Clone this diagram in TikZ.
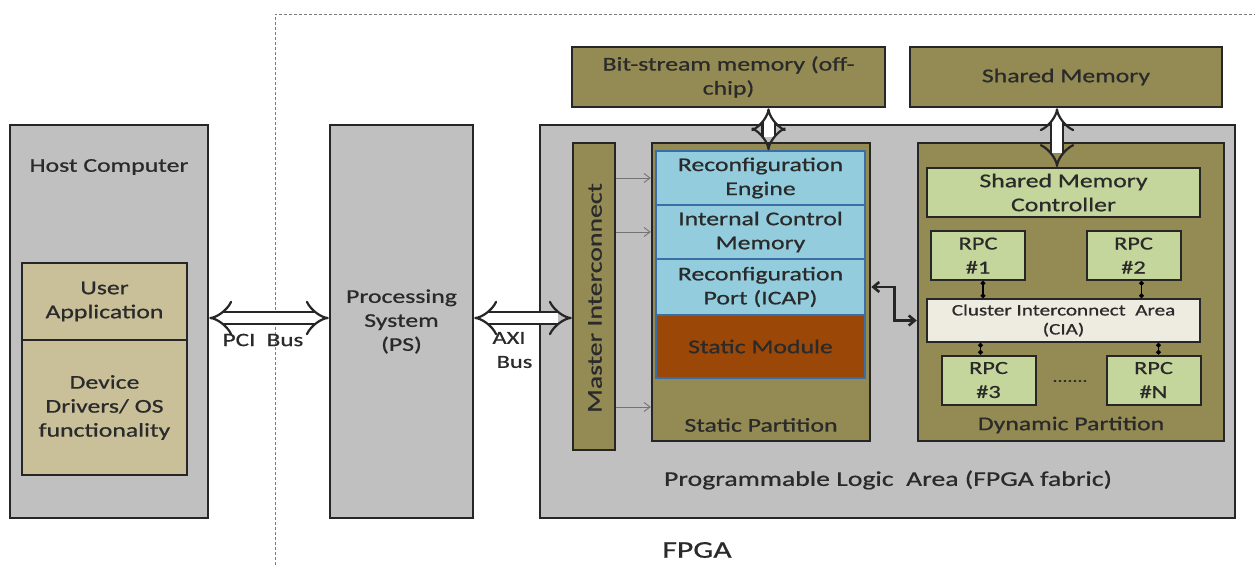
\documentclass[tikz,border=0pt]{standalone}
\usepackage{fontspec}
\setmainfont{Carlito}[FakeStretch=1.32,FakeBold=0.7]
\usetikzlibrary{arrows.meta,positioning}
\definecolor{grayfill}{HTML}{C0C0C0}
\definecolor{olivefill}{HTML}{948A54}
\definecolor{tanfill}{HTML}{C9C09A}
\definecolor{bluefill}{HTML}{93CDDD}
\definecolor{blueline}{HTML}{3A6EA5}
\definecolor{brownfill}{HTML}{9A4708}
\definecolor{greenfill}{HTML}{C4D69C}
\definecolor{ciafill}{HTML}{EEECE1}
\definecolor{txt}{HTML}{2A2A2A}
\definecolor{dashgray}{HTML}{7A7A7A}
\tikzset{
  blk/.style={draw=black!85, line width=2.5pt, inner sep=0pt, align=center, text=txt,
              font=\fontsize{19.5}{24}\selectfont},
  graybox/.style={blk, fill=grayfill},
  olivebox/.style={blk, fill=olivefill},
  tanbox/.style={blk, fill=tanfill},
  bluebox/.style={blk, draw=blueline, line width=1.4pt, fill=bluefill},
  brownbox/.style={bluebox, fill=brownfill},
  greenbox/.style={blk, line width=2pt, fill=greenfill},
  ciabox/.style={blk, line width=2pt, fill=ciafill, font=\fontsize{16}{19}\selectfont},
  rpcbox/.style={greenbox, minimum width=94pt, minimum height=49pt, font=\fontsize{18.5}{24}\selectfont},
  lbl/.style={text=txt, inner sep=0pt, align=center, font=\fontsize{19.5}{24}\selectfont},
  hollow/.style={double=white, double distance=10pt, line width=2.2pt, draw=black!85,
                 {Implies[scale=1.5]}-{Implies[scale=1.5]}},
  smallarr/.style={draw=black!55, line width=0.9pt, -{Straight Barb[length=6pt,width=9pt]}},
  dotlink/.style={draw=black, line width=1.6pt, {Circle[length=4.5pt]}-{Circle[length=4.5pt]}},
  elbow/.style={draw=black!85, line width=2.6pt,
                {Straight Barb[length=6pt,width=10pt]}-{Straight Barb[length=6pt,width=10pt]}},
}
\begin{document}
\begin{tikzpicture}[x=1pt,y=-1pt]
\useasboundingbox (0,0) rectangle (1255,565);

% FPGA region boundary
\draw[dashgray, line width=1pt, dash pattern=on 3pt off 2pt] (275,565) -- (275,14) -- (1255,14);

% Host computer
\node[graybox, minimum width=198pt, minimum height=393pt] (host) at (109,321.5) {};
\node[lbl] (hosttitle) at (109,167) {Host Computer};
\node[tanbox, minimum width=165pt, minimum height=77pt] (uapp) at (104.5,301.5) {User\\Application};
\node[tanbox, minimum width=165pt, minimum height=135pt] (drv) at (104.5,407.5) {Device\\Drivers/ OS\\functionality};

% Processing system
\node[graybox, minimum width=143pt, minimum height=393pt] (ps) at (401.5,321.5) {Processing\\System\\(PS)};

% Programmable logic
\node[graybox, minimum width=695pt, minimum height=393pt] (pl) at (887.5,321.5) {};
\node[lbl, font=\fontsize{21}{24}\selectfont] (pltitle) at (888,480) {Programmable\ Logic\ \ Area\ (FPGA\ fabric)};
\node[lbl, font=\fontsize{24}{28}\selectfont] (fpga) at (697,550) {FPGA};

% Off-chip memories
\node[olivebox, minimum width=313pt, minimum height=60pt] (bit) at (728.5,77) {Bit-stream memory (off-\\chip)};
\node[olivebox, minimum width=312pt, minimum height=60pt] (shm) at (1066,77) {Shared Memory};

% Master interconnect
\node[olivebox, minimum width=42pt, minimum height=307pt] (master) at (594,296.5) {};
\node[lbl, rotate=90, font=\fontsize{21}{24}\selectfont] (mastertxt) at (595,298) {Master Interconnect};

% Static partition
\node[olivebox, minimum width=218pt, minimum height=298pt] (spart) at (761,292) {};
\node[lbl] (sparttxt) at (761,425) {Static Partition};
\node[bluebox, minimum width=209pt, minimum height=54pt] (re) at (760.5,178) {Reconfiguration\\Engine};
\node[bluebox, minimum width=209pt, minimum height=54pt] (icm) at (760.5,232) {Internal Control\\Memory};
\node[bluebox, minimum width=209pt, minimum height=56pt] (icap) at (760.5,287) {Reconfiguration\\Port (ICAP)};
\node[brownbox, minimum width=209pt, minimum height=63pt] (sm) at (760.5,346.5) {Static Module};

% Dynamic partition
\node[olivebox, minimum width=306pt, minimum height=298pt] (dpart) at (1071,292) {};
\node[lbl] (dparttxt) at (1071,425) {Dynamic Partition};
\node[greenbox, minimum width=273pt, minimum height=49pt] (smc) at (1063.5,192.5) {Shared Memory\\Controller};
\node[rpcbox] (rpc1) at (978,255.5) {RPC\\\#1};
\node[rpcbox] (rpc2) at (1133.5,255.5) {RPC\\\#2};
\node[ciabox, minimum width=273pt, minimum height=43pt] (cia) at (1063.5,320.5) {Cluster Interconnect\ \ Area\\(CIA)};
\node[rpcbox] (rpc3) at (988.5,380) {RPC\\\#3};
\node[rpcbox] (rpcn) at (1153.5,380) {RPC\\\#N};
\node[lbl, font=\fontsize{15}{18}\selectfont] (dots) at (1070,381) {.......};

% Buses
\draw[hollow] (host.east |- 0,318) -- (ps.west |- 0,318);
\node[lbl, font=\fontsize{19}{22}\selectfont] (pci) at (263,340) {PCI\ \ Bus};
\draw[hollow] (ps.east |- 0,318) -- (master.west |- 0,318);
\node[lbl, font=\fontsize{18.5}{24}\selectfont] (axi) at (509,350) {AXI\\\ \ Bus};

% Memory ports
\draw[hollow] ([xshift=40pt]bit.south) -- ([xshift=40pt]bit.south |- re.north);
\draw[hollow] ([xshift=-9pt]shm.south) -- ([xshift=-9pt]shm.south |- smc.north);

% Master interconnect to static partition
\draw[smallarr] (master.east |- re.west) -- (spart.west |- re.west);
\draw[smallarr] (master.east |- icm.west) -- (spart.west |- icm.west);
\coordinate (lowtap) at (594,407);
\draw[smallarr] (master.east |- lowtap) -- (spart.west |- lowtap);

% ICAP to cluster interconnect
\draw[elbow] (icap.east -| spart.east) -- ++(23,0) |- (cia.west -| dpart.west);

% RPC links
\draw[dotlink] ([xshift=5pt]rpc1.south) -- ([xshift=5pt]rpc1.south |- cia.north);
\draw[dotlink] ([xshift=8pt]rpc2.south) -- ([xshift=8pt]rpc2.south |- cia.north);
\draw[dotlink] ([xshift=-8pt]rpc3.north) -- ([xshift=-8pt]rpc3.north |- cia.south);
\draw[dotlink] ([xshift=5pt]rpcn.north) -- ([xshift=5pt]rpcn.north |- cia.south);
\end{tikzpicture}
\end{document}
